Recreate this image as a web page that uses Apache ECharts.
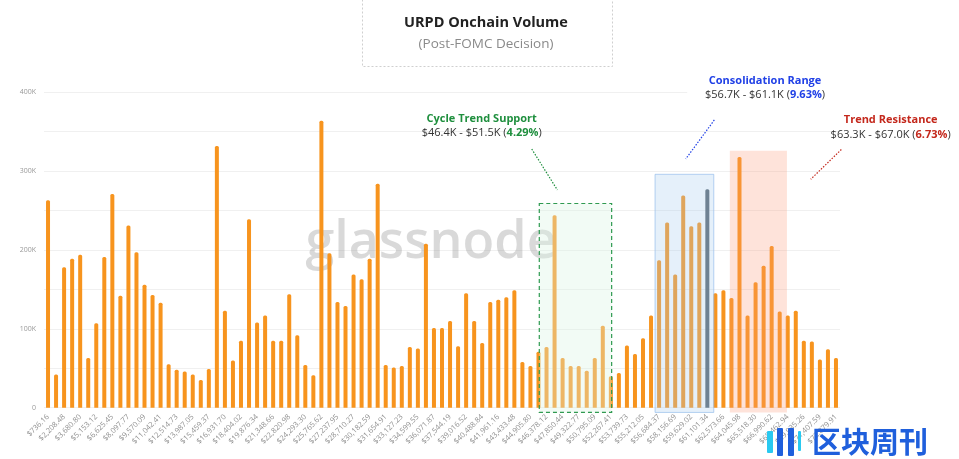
<!DOCTYPE html>
<html><head><meta charset="utf-8">
<script src="https://cdn.jsdelivr.net/npm/echarts@6/dist/echarts.min.js"></script>
<style>html,body{margin:0;padding:0;background:#fff}#c{width:959px;height:459px}</style>
</head><body><div id="c"></div>
<script>
// ---- data ----
const categories = [
'$736.16','$1,472.32','$2,208.48','$2,944.64','$3,680.80','$4,416.96','$5,153.12','$5,889.29','$6,625.45','$7,361.61',
'$8,097.77','$8,833.93','$9,570.09','$10,306.25','$11,042.41','$11,778.57','$12,514.73','$13,250.89','$13,987.05','$14,723.21',
'$15,459.37','$16,195.54','$16,931.70','$17,667.86','$18,404.02','$19,140.18','$19,876.34','$20,612.50','$21,348.66','$22,084.82',
'$22,820.98','$23,557.14','$24,293.30','$25,029.46','$25,765.62','$26,501.79','$27,237.95','$27,974.11','$28,710.27','$29,446.43',
'$30,182.59','$30,918.75','$31,654.91','$32,391.07','$33,127.23','$33,863.39','$34,599.55','$35,335.71','$36,071.87','$36,808.04',
'$37,544.19','$38,280.36','$39,016.52','$39,752.68','$40,488.84','$41,225.00','$41,961.16','$42,697.32','$43,433.48','$44,169.64',
'$44,905.80','$45,641.96','$46,378.12','$47,114.28','$47,850.44','$48,586.61','$49,322.77','$50,058.93','$50,795.09','$51,531.25',
'$52,267.41','$53,003.57','$53,739.73','$54,475.89','$55,212.05','$55,948.21','$56,684.37','$57,420.53','$58,156.69','$58,892.86',
'$59,629.02','$60,365.18','$61,101.34','$61,837.50','$62,573.66','$63,309.82','$64,045.98','$64,782.14','$65,518.30','$66,254.46',
'$66,990.62','$67,726.78','$68,462.94','$69,199.11','$69,935.26','$70,671.43','$71,407.59','$72,143.75','$72,879.91'
];
// onchain volume per price bucket, in thousands
const volumeK = [
263,42,178,189,194,63,107,191,271,142,
231,197,156,143,133,55,48,46,42,35,
49,332,123,60,85,239,108,117,85,85,
144,92,54,41,364,196,134,129,169,163,
189,284,54,51,53,77,75,208,101,101,
110,78,145,110,82,134,137,140,149,58,
53,71,77,244,63,53,53,47,63,104,
40,44,79,68,88,117,187,235,169,269,
230,235,277,145,149,139,318,117,159,180,
205,122,117,123,85,84,61,74,63
];
const currentPriceBucket = 82;          // index of highlighted (current price) bucket
const yTickValuesK = [0, 100, 200, 300, 400];
// highlighted zones: [fromBucket, toBucket, topK, bottomK] (bucket index space)
const zoneRanges = [
  [61.1, 70.1, 259, -6],
  [75.5, 82.8, 296, -6],
  [84.8, 91.9, 326, -6]
];
const zoneTitles = ['Cycle Trend Support', 'Consolidation Range', 'Trend Resistance'];
const zoneRangeText = ['$46.4K - $51.5K', '$56.7K - $61.1K', '$63.3K - $67.0K'];
const zonePercent = ['4.29%', '9.63%', '6.73%'];

// ---- styles ----
const ORANGE = '#f7941e';
const zoneStyles = [
  { fill: 'rgba(220,243,226,0.36)', stroke: '#2f9a50', lineWidth: 1.2, lineDash: [4, 3] },
  { fill: 'rgba(170,205,240,0.30)', stroke: 'rgba(150,190,235,0.7)', lineWidth: 1, lineDash: null },
  { fill: 'rgba(250,150,120,0.27)', stroke: null, lineWidth: 0, lineDash: null }
];
const zoneColors = ['#1f8f3e', '#2040e6', '#c4281c'];
// annotation anchors in (bucket, K) space
const annoAnchors = [
  { title: [53.94, 365.8], sub: [53.94, 348.0], line: [[60.16, 328.1], [63.35, 276.1]] },
  { title: [89.18, 414.7], sub: [89.18, 397.0], line: [[82.87, 364.9], [79.31, 315.4]] },
  { title: [104.8, 364.5], sub: [104.8, 346.2], line: [[98.67, 327.5], [94.86, 289.7]] }
];

const FONT = '"Open Sans", "Noto Sans", sans-serif';
const chart = echarts.init(document.getElementById('c'), null, { renderer: 'canvas' });

const barData = volumeK.map((v, i) => i === currentPriceBucket
  ? { value: v, itemStyle: { color: '#56626c' } } : v);

chart.setOption({
  backgroundColor: '#fff',
  animation: false,
  grid: { left: 44, right: 119, top: 92.3, bottom: 51.3, containLabel: false, outerBoundsMode: 'none' },
  xAxis: [
    {
      type: 'category', data: categories,
      axisLine: { show: false }, axisTick: { show: false },
      axisLabel: { interval: 1, rotate: 45, fontSize: 7.5, color: '#8f8f8f', margin: 8, fontFamily: FONT }
    },
    { type: 'value', min: -0.5, max: categories.length - 0.5, show: false }
  ],
  yAxis: {
    type: 'value', min: 0, max: 400, interval: 50,
    axisLine: { show: false }, axisTick: { show: false },
    splitLine: { lineStyle: { color: '#f0f0f0', width: 1 } },
    axisLabel: {
      fontSize: 7, color: '#999', margin: 8, fontFamily: FONT,
      formatter: v => yTickValuesK.indexOf(v) < 0 ? '' : (v === 0 ? '0' : v + 'K')
    }
  },
  series: [
    {
      type: 'bar', data: barData, barWidth: 4,
      itemStyle: { color: ORANGE, borderRadius: [1.5, 1.5, 0, 0] }, z: 2
    },
    {
      type: 'custom', xAxisIndex: 1, yAxisIndex: 0, z: 3, clip: false,
      data: zoneRanges,
      encode: { x: [0, 1], y: [2, 3] },
      renderItem: (params, api) => {
        const p0 = api.coord([api.value(0), api.value(2)]);
        const p1 = api.coord([api.value(1), api.value(3)]);
        const s = zoneStyles[params.dataIndex];
        return {
          type: 'rect',
          shape: { x: p0[0], y: p0[1], width: p1[0] - p0[0], height: p1[1] - p0[1] },
          style: { fill: s.fill, stroke: s.stroke, lineWidth: s.lineWidth, lineDash: s.lineDash }
        };
      }
    }
  ]
});

const P = (pt) => chart.convertToPixel({ xAxisIndex: 1, yAxisIndex: 0 }, pt);
const graphics = [];

// title box
graphics.push({ type: 'rect', left: 362, top: -1, z: 10, shape: { width: 250, height: 67 },
  style: { fill: '#fff', stroke: '#cfcfcf', lineWidth: 1, lineDash: [2, 2] } });
graphics.push({ type: 'text', x: 486, y: 23, z: 11, style: { text: 'URPD Onchain Volume', fill: '#222',
  font: 'bold 14.5px ' + FONT, textAlign: 'center', textVerticalAlign: 'middle' } });
graphics.push({ type: 'text', x: 486, y: 44, z: 11, style: { text: '(Post-FOMC Decision)', fill: '#8a8a8a',
  font: '13.5px ' + FONT, textAlign: 'center', textVerticalAlign: 'middle' } });

// watermark
graphics.push({ type: 'text', x: 431, y: 243, z: 1, style: { text: 'glassnode', fill: 'rgba(150,150,150,0.36)',
  font: '600 52px "Open Sans", sans-serif', textAlign: 'center', textVerticalAlign: 'middle' } });

// white band behind consolidation label
const wb0 = P([79.5, 430]), wb1 = P([99.5, 385]);
graphics.push({ type: 'rect', z: 4, shape: { x: wb0[0], y: wb0[1], width: wb1[0] - wb0[0], height: wb1[1] - wb0[1] },
  style: { fill: '#fff' } });

annoAnchors.forEach((a, i) => {
  const t = P(a.title), s = P(a.sub), l0 = P(a.line[0]), l1 = P(a.line[1]);
  graphics.push({ type: 'text', x: t[0], y: t[1], z: 12, style: { text: zoneTitles[i], fill: zoneColors[i],
    font: 'bold 11px ' + FONT, textAlign: 'center', textVerticalAlign: 'middle' } });
  graphics.push({ type: 'text', x: s[0], y: s[1], z: 12, style: {
    text: '{a|' + zoneRangeText[i] + ' (}{b|' + zonePercent[i] + '}{a|)}',
    textAlign: 'center', textVerticalAlign: 'middle',
    rich: {
      a: { fill: '#333', font: '11px ' + FONT },
      b: { fill: zoneColors[i], font: 'bold 11px ' + FONT }
    } } });
  graphics.push({ type: 'line', z: 12, shape: { x1: l0[0], y1: l0[1], x2: l1[0], y2: l1[1] },
    style: { stroke: zoneColors[i], lineWidth: 1.2, lineDash: [1.5, 1.5] } });
});

// bottom-right logo
graphics.push({ type: 'rect', z: 20, shape: { x: 767, y: 431, width: 6, height: 22, r: 1 }, style: { fill: '#29c9f0' } });
graphics.push({ type: 'rect', z: 20, shape: { x: 777, y: 428, width: 6, height: 28, r: 1 }, style: { fill: '#1f5fdc' } });
graphics.push({ type: 'rect', z: 20, shape: { x: 788, y: 428, width: 6, height: 28, r: 1 }, style: { fill: '#1f5fdc' } });
graphics.push({ type: 'rect', z: 20, shape: { x: 798, y: 431, width: 3, height: 20, r: 1 }, style: { fill: '#29c9f0' } });
graphics.push({ type: 'text', x: 870, y: 442, z: 20, style: { text: '区块周刊', fill: '#1f5fdc',
  font: 'bold 29px "Noto Sans CJK SC", sans-serif', textAlign: 'center', textVerticalAlign: 'middle' } });

chart.setOption({ graphic: graphics });
</script>
</body></html>
